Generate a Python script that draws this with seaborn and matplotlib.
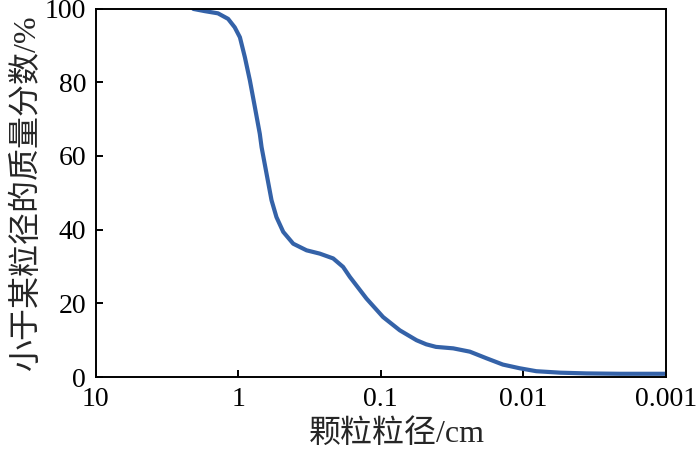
import matplotlib
matplotlib.use("Agg")
import matplotlib.pyplot as plt
import seaborn as sns
import pandas as pd
from matplotlib.ticker import FixedLocator, FixedFormatter, NullLocator

sns.set_theme(style="ticks")
plt.rcParams['font.family'] = ['Liberation Serif', 'Noto Sans CJK SC', 'DejaVu Sans']
plt.rcParams['axes.unicode_minus'] = False

# particle size (cm) and cumulative mass fraction passing (%)
size_cm = [2.07, 1.72, 1.39, 1.18, 1.06, 0.975, 0.90, 0.83, 0.766, 0.707,
           0.687, 0.634, 0.585, 0.54, 0.484, 0.412, 0.37, 0.332, 0.268,
           0.216, 0.184, 0.165, 0.126, 0.0964, 0.0736, 0.0561, 0.048, 0.041,
           0.031, 0.0237, 0.0181, 0.0139, 0.0106, 0.0081, 0.0055, 0.0036,
           0.0021, 0.001]
passing = [99.9, 99.3, 98.7, 97.2, 94.9, 92.2, 86.8, 80.5, 73.3, 66.0,
           62.4, 55.2, 48.0, 43.4, 39.4, 36.2, 35.3, 34.4, 33.5,
           32.2, 29.9, 27.2, 21.3, 16.3, 12.7, 10.0, 8.9, 8.2,
           7.8, 6.9, 5.1, 3.4, 2.4, 1.6, 1.2, 1.0,
           0.9, 0.9]

x_ticks = [10, 1, 0.1, 0.01, 0.001]
x_tick_labels = ["10", "1", "0.1", "0.01", "0.001"]
y_ticks = [0, 20, 40, 60, 80, 100]

df = pd.DataFrame({"size": size_cm, "pct": passing})

fig = plt.figure(figsize=(7, 4.5), dpi=100)
ax = fig.add_axes([0.137, 0.162, 0.814, 0.819])
sns.lineplot(data=df, x="size", y="pct", ax=ax, color="#3462a8", linewidth=3.0,
             sort=False, solid_joinstyle="round", solid_capstyle="round")
ax.set_xscale("log")
ax.set_xlim(10, 0.001)
ax.set_ylim(0, 100)

ax.xaxis.set_major_locator(FixedLocator(x_ticks))
ax.xaxis.set_major_formatter(FixedFormatter(x_tick_labels))
ax.xaxis.set_minor_locator(NullLocator())
ax.set_yticks(y_ticks)

for s in ax.spines.values():
    s.set_color("black")
    s.set_linewidth(1.4)

ax.tick_params(axis="both", direction="in", length=5, width=1.4, labelsize=20,
               colors="black", pad=7, top=False, right=False)

ax.set_xlabel("颗粒粒径/cm", fontsize=23, va="center")
ax.xaxis.set_label_coords(0.528, -0.155)
ax.set_ylabel("小于某粒径的质量分数/%", fontsize=23, labelpad=2)

fig.savefig("out.png", dpi=100, facecolor="white")
